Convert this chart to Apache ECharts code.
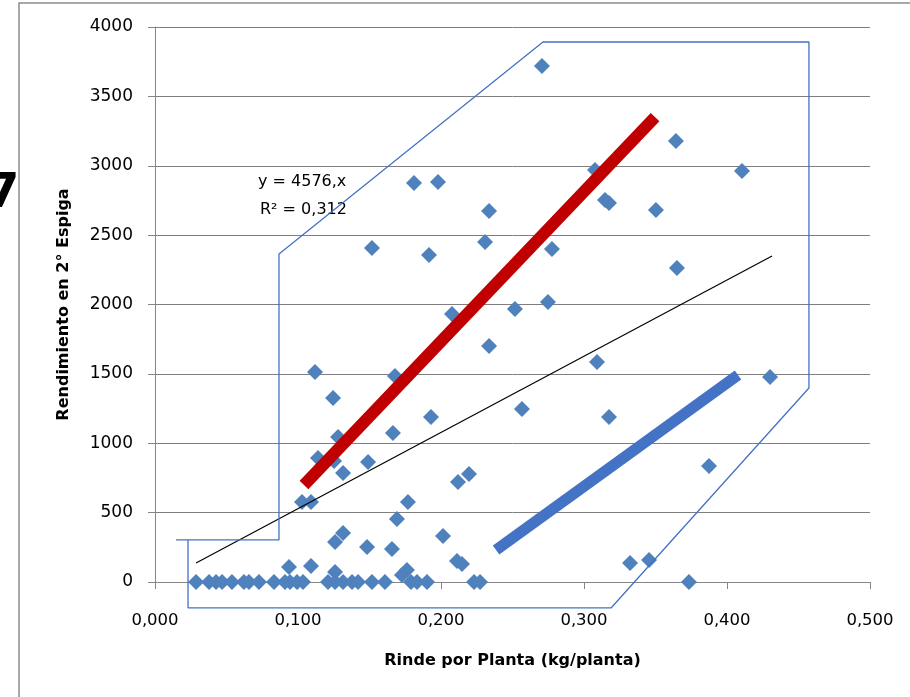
<!DOCTYPE html>
<html>
<head>
<meta charset="utf-8">
<script src="https://cdn.jsdelivr.net/npm/echarts@6/dist/echarts.min.js"></script>
<style>
  html, body { margin: 0; padding: 0; background: #fff; }
  #chart { width: 910px; height: 697px; }
</style>
</head>
<body>
<div id="chart"></div>
<script>
  // puntos [rinde por planta, rendimiento 2° espiga]
  var puntosCero = [0.0287, 0.0378, 0.0427, 0.0469, 0.0538, 0.0622, 0.0657, 0.0727, 0.0832,
    0.0909, 0.0944, 0.0993, 0.1035, 0.1210, 0.1259, 0.1315, 0.1378, 0.1420, 0.1517,
    0.1608, 0.1790, 0.1832, 0.1902, 0.2231, 0.2273, 0.3734];
  var puntos = [
    [0.2706, 3719], [0.3643, 3178], [0.4105, 2962], [0.1811, 2876], [0.1979, 2883],
    [0.3077, 2969], [0.3147, 2753], [0.3175, 2732], [0.3503, 2681], [0.2336, 2674],
    [0.2308, 2450], [0.1517, 2407], [0.1916, 2357], [0.3650, 2263], [0.2776, 2400],
    [0.2748, 2018], [0.2077, 1932], [0.2517, 1968], [0.2336, 1701], [0.1119, 1514],
    [0.1678, 1485], [0.3091, 1586], [0.4301, 1477], [0.1245, 1326], [0.1930, 1189],
    [0.3175, 1189], [0.2566, 1247], [0.1280, 1045], [0.1664, 1074], [0.1140, 894],
    [0.1252, 872], [0.1490, 865], [0.1315, 786], [0.2119, 721], [0.2196, 778],
    [0.3874, 836], [0.1028, 577], [0.1091, 577], [0.1769, 577], [0.1692, 454],
    [0.1315, 353], [0.1259, 288], [0.2014, 332], [0.1483, 252], [0.1657, 238],
    [0.0937, 108], [0.1091, 115], [0.2112, 151], [0.2147, 130], [0.3322, 137],
    [0.3455, 159], [0.1259, 72], [0.1762, 86], [0.1727, 50]
  ];
  // linea de tendencia
  var tendencia = [[0.0287, 137], [0.4315, 2350]];
  // lineas gruesas
  var lineaRoja = [[0.1042, 699], [0.3497, 3351]];
  var lineaAzul = [[0.2385, 231], [0.4077, 1492]];
  // contorno
  var contorno = [[0.0147, 303], [0.0867, 303], [0.0867, 2364], [0.2713, 3892], [0.4573, 3892],
    [0.4573, 1398], [0.3189, -187], [0.0231, -187], [0.0231, 303]];

  var fuente = 'DejaVu Sans';
  var datos = puntos.concat(puntosCero.map(function (x) { return [x, 0]; }));

  var myChart = echarts.init(document.getElementById('chart'));
  myChart.setOption({
    animation: false,
    grid: { left: 155, top: 27, right: 40, bottom: 115 },
    xAxis: {
      type: 'value',
      min: 0, max: 0.5, interval: 0.1,
      name: 'Rinde por Planta (kg/planta)',
      nameLocation: 'middle',
      nameGap: 71,
      nameTextStyle: { fontFamily: fuente, fontWeight: 'bold', fontSize: 16, color: '#000' },
      axisLine: { onZero: false, lineStyle: { color: '#868686', width: 1 } },
      axisTick: { show: true, length: 7, lineStyle: { color: '#868686' } },
      axisLabel: {
        fontFamily: fuente, fontSize: 16.5, color: '#000', margin: 30,
        formatter: function (v) { return v.toFixed(3).replace('.', ','); }
      },
      splitLine: { show: false }
    },
    yAxis: {
      type: 'value',
      min: 0, max: 4000, interval: 500,
      name: 'Rendimiento en 2° Espiga',
      nameLocation: 'middle',
      nameGap: 83,
      nameTextStyle: { fontFamily: fuente, fontWeight: 'bold', fontSize: 16, color: '#000' },
      axisLine: { show: true, lineStyle: { color: '#868686', width: 1 } },
      axisTick: { show: true, length: 7, lineStyle: { color: '#868686' } },
      axisLabel: {
        fontFamily: fuente, fontSize: 17, color: '#000', margin: 22,
        formatter: function (v) { return String(v); }
      },
      splitLine: { lineStyle: { color: '#7f7f7f', width: 1 } }
    },
    graphic: [
      { type: 'rect', shape: { x: 19, y: 3, width: 960, height: 760 },
        style: { fill: 'none', stroke: '#8c8c8c', lineWidth: 1.5 } },
      { type: 'text', left: -14, top: 171,
        style: { text: '7', fontFamily: fuente, fontWeight: 'bold', fontSize: 48, fill: '#000' } },
      { type: 'text', left: 258, top: 174,
        style: { text: 'y = 4576,x', fontFamily: fuente, fontSize: 16, fill: '#000' } },
      { type: 'text', left: 260, top: 202,
        style: { text: 'R² = 0,312', fontFamily: fuente, fontSize: 16, fill: '#000' } }
    ],
    series: [
      {
        type: 'scatter',
        data: datos,
        symbol: 'diamond',
        symbolSize: 16,
        itemStyle: { color: '#4F81BD', opacity: 1 }
      },
      {
        type: 'line', data: tendencia, symbol: 'none',
        lineStyle: { color: '#000', width: 1.2 }
      },
      {
        type: 'line', data: lineaRoja, symbol: 'none',
        lineStyle: { color: '#C00000', width: 12 }
      },
      {
        type: 'line', data: lineaAzul, symbol: 'none',
        lineStyle: { color: '#4472C4', width: 11 }
      },
      {
        type: 'line', data: contorno, symbol: 'none', clip: false,
        lineStyle: { color: '#4472C4', width: 1.3 }
      }
    ]
  });
</script>
</body>
</html>
